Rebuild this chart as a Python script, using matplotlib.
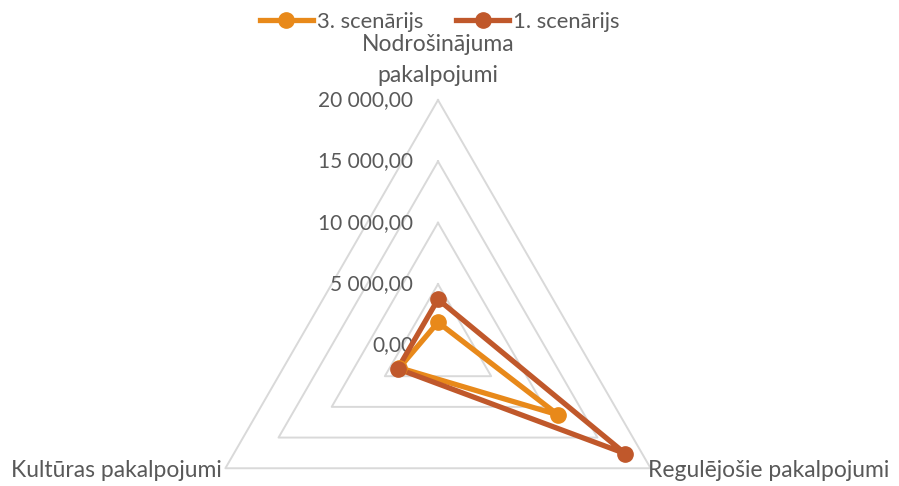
import matplotlib
matplotlib.use("Agg")
import matplotlib.pyplot as plt
import numpy as np
from matplotlib.lines import Line2D

categories = ["Nodrošinājuma\npakalpojumi", "Regulējošie pakalpojumi", "Kultūras pakalpojumi"]
series_names = ["3. scenārijs", "1. scenārijs"]
scen3 = [1890, 11300, 3630]
scen1 = [3760, 17610, 3790]
ticks = [0, 5000, 10000, 15000, 20000]
tick_labels = ["0,00", "5 000,00", "10 000,00", "15 000,00", "20 000,00"]

COLORS = ["#E8891A", "#C0582B"]
GRID, TEXT = "#D9D9D9", "#595959"
plt.rcParams["font.family"] = ["Lato", "DejaVu Sans"]

W, H = 899, 486
CX, CY, R = 438, 345.5, 245.5   # pixel centre and radius of the 20 000 ring
k = ticks[-1] / R               # value units per pixel

angles = np.radians([90, -30, 210])


def xy(vals):
    v = np.asarray(vals, float)
    return v * np.cos(angles), v * np.sin(angles)


fig = plt.figure(figsize=(W / 100, H / 100), dpi=100)
ax = fig.add_axes([0, 0, 1, 1])
ax.set_xlim(-CX * k, (W - CX) * k)
ax.set_ylim(-(H - CY) * k, CY * k)
ax.axis("off")

# triangular grid rings
for t in ticks[1:]:
    x, y = xy([t] * 3)
    ax.plot(np.append(x, x[0]), np.append(y, y[0]), color=GRID, lw=1.4, zorder=1)

# value labels along the top spoke
for t, lab in zip(ticks, tick_labels):
    ax.text(-25 * k, t, lab, ha="right", va="center", fontsize=15, color=TEXT)

# data series
for vals, c in zip([scen3, scen1], COLORS):
    x, y = xy(vals)
    ax.plot(np.append(x, x[0]), np.append(y, y[0]), color=c, lw=3.8,
            solid_joinstyle="miter", zorder=3)
    ax.plot(x, y, "o", color=c, ms=11, zorder=4)

# category labels
ax.text(0, (CY - 60) * k, categories[0], ha="center", va="center",
        fontsize=16.5, color=TEXT, linespacing=1.55)
ax.text((648 - CX) * k, -(470 - CY) * k, categories[1], ha="left", va="center",
        fontsize=16.5, color=TEXT)
ax.text((222 - CX) * k, -(470 - CY) * k, categories[2], ha="right", va="center",
        fontsize=16.5, color=TEXT)

handles = [Line2D([], [], color=c, lw=3.8, marker="o", ms=11) for c in COLORS]
fig.legend(handles, series_names, loc="center", bbox_to_anchor=(440 / W, 1 - 22 / H),
           ncol=2, frameon=False, fontsize=15.8, labelcolor=TEXT,
           handlelength=2.4, handletextpad=0.2, columnspacing=1.5)

fig.savefig("out.png", dpi=100)
